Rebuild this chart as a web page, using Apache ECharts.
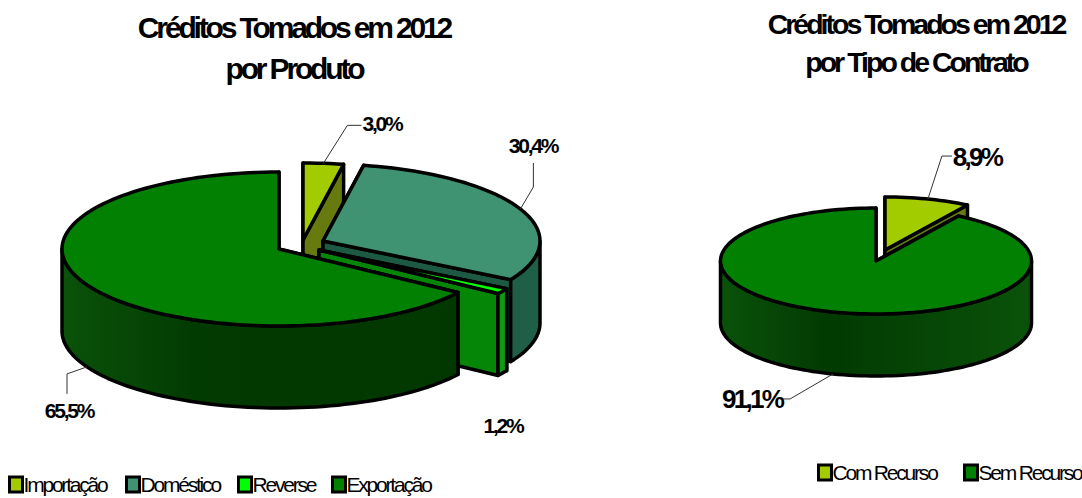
<!DOCTYPE html>
<html>
<head>
<meta charset="utf-8">
<style>
  html, body { margin: 0; padding: 0; background: #fff; }
  #chart { width: 1082px; height: 498px; }
  /* tight tracking for every chart text */
  #chart svg text { letter-spacing: -0.105em; }
</style>
<script src="https://cdn.jsdelivr.net/npm/echarts@6/dist/echarts.min.js"></script>
</head>
<body>
<div id="chart"></div>
<script>
// Slice values, in percent, clockwise from twelve o'clock
const productCategories = ['Importação', 'Doméstico', 'Reverse', 'Exportação'];
const productValues = [3.0, 30.4, 1.2, 65.5];
const contractCategories = ['Com Recurso', 'Sem Recurso'];
const contractValues = [8.9, 91.1];

const productTitle = 'Créditos Tomados em 2012\npor Produto';
const contractTitle = 'Créditos Tomados em 2012\npor Tipo de Contrato';

// Colours per slice: top face, rim wall (left, middle, right), cut face
const productColors = [
  { top: '#a3cc00', wall: ['#667a10', '#667a10', '#667a10'], cut: '#667a10' },
  { top: '#3f9272', wall: ['#1f5f48', '#1f5f48', '#1f5f48'], cut: '#1c5a44' },
  { top: '#00ff00', wall: ['#0c9c0c', '#0c9c0c', '#0c9c0c'], cut: '#068606' },
  { top: '#028002', wall: ['#0a520a', '#023a02', '#003800'], cut: '#003800' }
];
const contractColors = [
  { top: '#a3cc00', wall: ['#667a10', '#667a10', '#667a10'], cut: '#667a10' },
  { top: '#028002', wall: ['#0a520a', '#023a02', '#0a520a'], cut: '#003800' }
];

// Pie geometry: ellipse radii, extrusion depth, and each slice's apex
const productPie = {
  rx: 217, ry: 77, depth: 82,
  apex: [[303, 240], [323, 241], [319, 250], [279, 249]],
  label: [[382, 123], [533, 145], [503, 425], [69, 410]],
  leader: [[[24, -38], [38, -38]], [[13, -22], [13, -46]], null, [[-20, 7], [-20, 27]]],
  labelSize: 21
};
const contractPie = {
  rx: 155.5, ry: 53, depth: 62,
  apex: [[885, 250], [876, 261]],
  label: [[977, 157], [752, 399]],
  leader: [[[14, -43], [24, -43]], [[-43, 25], [-53, 25]]],
  labelSize: 26
};

const legendLayout = {
  product: { left: [8, 125, 237, 331], top: 474, size: 21 },
  contract: { left: [817, 963], top: 462, size: 21 }
};

const RAD = Math.PI / 180;

function rimPoint(apex, pie, deg, drop) {
  return [
    apex[0] + pie.rx * Math.sin(deg * RAD),
    apex[1] - pie.ry * Math.cos(deg * RAD) + (drop || 0)
  ];
}

function arc(apex, pie, from, to, drop) {
  const steps = Math.max(2, Math.ceil(Math.abs(to - from) / 2));
  const pts = [];
  for (let i = 0; i <= steps; i++) {
    pts.push(rimPoint(apex, pie, from + (to - from) * i / steps, drop));
  }
  return pts;
}

function face(points, fill) {
  return {
    type: 'polygon',
    shape: { points },
    style: { fill, stroke: '#000', lineWidth: 3.5, lineJoin: 'round' }
  };
}

// One extruded slice: cut faces, then the rim wall, then the top, then its callout
function sliceRenderer(values, colors, pie, index) {
  const total = values.reduce((a, b) => a + b, 0);
  const start = values.slice(0, index).reduce((a, b) => a + b, 0) / total * 360;
  const end = start + values[index] / total * 360;
  const mid = (start + end) / 2;
  const apex = pie.apex[index];
  const c = colors[index];
  const d = pie.depth;

  return function () {
    const children = [];
    const apexLow = [apex[0], apex[1] + d];

    [start, end].forEach(function (deg) {
      children.push(face([apex, rimPoint(apex, pie, deg), rimPoint(apex, pie, deg, d), apexLow], c.cut));
    });

    const wallFrom = Math.max(start, 90);
    const wallTo = Math.min(end, 270);
    if (wallTo > wallFrom) {
      const fill = new echarts.graphic.LinearGradient(0, 0, 1, 0, [
        { offset: 0, color: c.wall[0] },
        { offset: 0.35, color: c.wall[1] },
        { offset: 1, color: c.wall[2] }
      ]);
      children.push(face(
        arc(apex, pie, wallFrom, wallTo, 0).concat(arc(apex, pie, wallTo, wallFrom, d)),
        fill
      ));
    }

    children.push(face([apex].concat(arc(apex, pie, start, end, 0)), c.top));

    if (pie.leader[index]) {
      const onFront = mid > 90 && mid < 270;
      const anchor = rimPoint(apex, pie, mid, onFront ? d : 0);
      const path = [anchor].concat(pie.leader[index].map(function (o) {
        return [anchor[0] + o[0], anchor[1] + o[1]];
      }));
      children.push({
        type: 'polyline',
        shape: { points: path },
        style: { stroke: '#333', lineWidth: 1, fill: null }
      });
    }

    children.push({
      type: 'text',
      style: {
        text: values[index].toFixed(1).replace('.', ',') + '%',
        x: pie.label[index][0],
        y: pie.label[index][1],
        align: 'center',
        verticalAlign: 'middle',
        fill: '#000',
        font: 'bold ' + pie.labelSize + 'px "Liberation Sans", Arial, sans-serif'
      }
    });

    return { type: 'group', children };
  };
}

function sliceSeries(names, values, colors, pie) {
  return names.map(function (name, i) {
    return {
      type: 'custom',
      name,
      coordinateSystem: 'none',
      silent: true,
      itemStyle: { color: colors[i].top },
      data: [values[i]],
      renderItem: sliceRenderer(values, colors, pie, i)
    };
  });
}

function legends(names, colors, layout) {
  return names.map(function (name, i) {
    return {
      left: layout.left[i],
      top: layout.top,
      padding: 0,
      selectedMode: false,
      icon: 'rect',
      itemWidth: 13,
      itemHeight: 15,
      itemGap: 0,
      textStyle: {
        color: '#000',
        fontSize: layout.size,
        fontFamily: '"Liberation Sans", Arial, sans-serif',
        padding: [0, 0, 0, -4]
      },
      data: [{
        name,
        itemStyle: { color: colors[i].top, borderColor: '#000', borderWidth: 3 }
      }]
    };
  });
}

function titleBlock(text, x, y, size, lineHeight) {
  return {
    text,
    left: x,
    top: y,
    textAlign: 'center',
    padding: 0,
    textStyle: {
      color: '#000',
      fontSize: size,
      lineHeight,
      fontWeight: 'bold',
      fontFamily: '"Liberation Sans", Arial, sans-serif'
    }
  };
}

const chart = echarts.init(document.getElementById('chart'), null, { renderer: 'svg' });
chart.setOption({
  animation: false,
  backgroundColor: '#fff',
  title: [
    titleBlock(productTitle, 294, 7, 30, 41),
    titleBlock(contractTitle, 916, 5, 28.5, 38)
  ],
  legend: legends(productCategories, productColors, legendLayout.product)
    .concat(legends(contractCategories, contractColors, legendLayout.contract)),
  series: sliceSeries(productCategories, productValues, productColors, productPie)
    .concat(sliceSeries(contractCategories, contractValues, contractColors, contractPie))
});
</script>
</body>
</html>
